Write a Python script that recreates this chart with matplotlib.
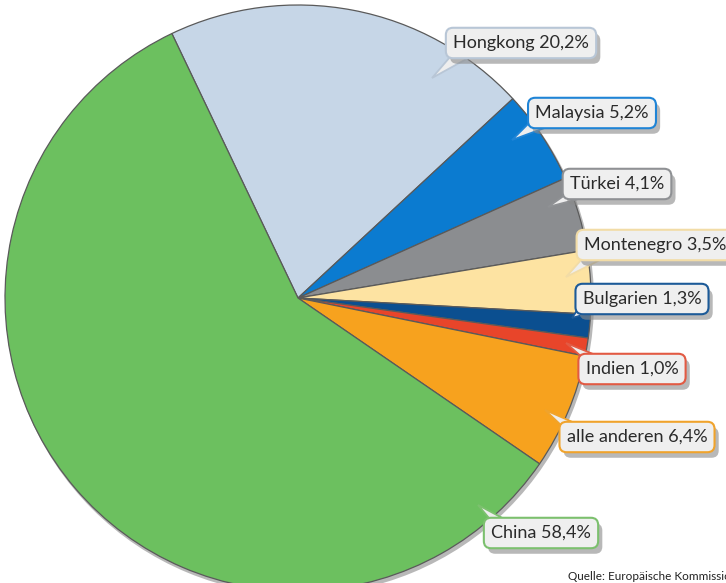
import numpy as np
import matplotlib.pyplot as plt
import matplotlib.patheffects as pe
from matplotlib.patches import Polygon
from matplotlib import font_manager

# Anteile (Prozent), im Uhrzeigersinn ab Hongkong
laender = ["Hongkong", "Malaysia", "Türkei", "Montenegro", "Bulgarien", "Indien", "alle anderen", "China"]
anteile = [20.2, 5.2, 4.1, 3.5, 1.3, 1.0, 6.4, 58.4]
beschriftung = ["20,2%", "5,2%", "4,1%", "3,5%", "1,3%", "1,0%", "6,4%", "58,4%"]
farben = ["#c6d6e7", "#0b7bd0", "#8b8d90", "#fde3a2", "#0b4f90", "#e8452a", "#f7a21e", "#6cc05f"]
rahmen = ["#b8c6d6", "#1f84d6", "#8f9194", "#f2dca6", "#1c5a98", "#e25a43", "#f0a32c", "#7cc06e"]

# schmale Schrift, falls vorhanden
namen = {f.name for f in font_manager.fontManager.ttflist}
if "Liberation Sans Narrow" in namen:
    font, fs = ["Liberation Sans Narrow", "DejaVu Sans"], 14
else:
    font, fs = ["Lato", "DejaVu Sans"], 13

H = 583
fig = plt.figure(figsize=(7.26, 5.83), dpi=100)
ax = fig.add_axes([0, 0, 1, 1])

# leichter Schatten unter dem Kreis
ax.pie([1], colors=["#b8b8b8"], center=(300, H - 301), radius=294, frame=True,
       wedgeprops=dict(edgecolor="none"))
# Kreisdiagramm
ax.pie(anteile, colors=farben, startangle=115.5, counterclock=False,
       center=(298, H - 298), radius=293, frame=True,
       wedgeprops=dict(edgecolor="#5a5a5a", linewidth=0.9))

ax.set_xlim(0, 726)
ax.set_ylim(0, H)
ax.set_aspect("equal")
ax.axis("off")

# Label-Positionen (Textmitte in Pixeln) und Spitze des Zeigers
label_pos = [(521, 43), (592, 113), (617, 184), (655, 245), (642, 299), (632, 369), (637, 437), (541, 533)]
tip_pos = [(432, 78), (512, 140), (548, 207), (566, 277), (572, 318), (566, 343), (545, 410), (478, 505)]
tail_base = [((456, 50), (472, 56)), ((534, 118), (550, 126)), ((572, 190), (586, 197)),
             ((590, 250), (604, 258)), ((582, 303), (596, 311)), ((583, 358), (598, 356)),
             ((563, 427), (577, 424)), ((494, 524), (508, 521))]

for i, name in enumerate(laender):
    x, y = label_pos[i]
    txt = name + " " + beschriftung[i]
    # Zeiger
    (bx1, by1), (bx2, by2) = tail_base[i]
    tx, ty = tip_pos[i]
    tri = Polygon([(bx1, H - by1), (tx, H - ty), (bx2, H - by2)], closed=True,
                  fc="#eeeeee", ec=rahmen[i], lw=1.3, zorder=5)
    ax.add_patch(tri)
    # Kasten mit Text und Schatten
    t = ax.text(x, H - y, txt, fontsize=fs, family=font, color="#2a2a2a",
                ha="center", va="center", zorder=6,
                bbox=dict(boxstyle="round,pad=0.4,rounding_size=0.4", fc="#efefef", ec=rahmen[i], lw=1.5))
    t.get_bbox_patch().set_path_effects([
        pe.SimplePatchShadow(offset=(3, -4), shadow_rgbFace="#8a8a8a", alpha=0.6),
        pe.Normal()])

ax.text(568, H - 577, "Quelle: Europäische Kommission", fontsize=8.5, family=font,
        color="#222222", ha="left", va="center")

fig.savefig("out.png", dpi=100)
